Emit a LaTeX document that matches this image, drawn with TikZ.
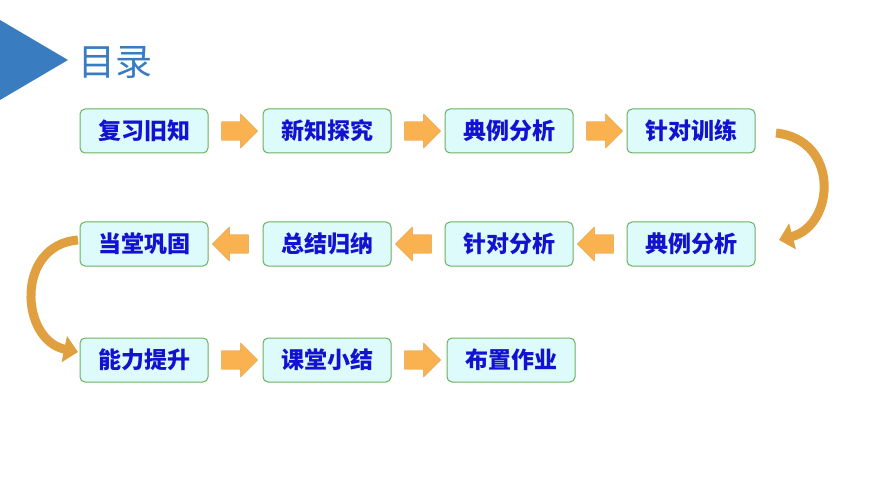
\documentclass[tikz,border=0pt]{standalone}
\usepackage{fontspec}
\newfontfamily\cjk{Noto Sans CJK SC}[BoldFont={Noto Sans CJK SC Black}]
\usetikzlibrary{arrows.meta,shapes.arrows}
\definecolor{tblue}{HTML}{3A7CC0}
\definecolor{bfill}{HTML}{DDFBFB}
\definecolor{bline}{HTML}{6BAF5E}
\definecolor{btext}{HTML}{1212D0}
\definecolor{aor}{HTML}{F9B24F}
\definecolor{aline}{HTML}{E09A3A}
\definecolor{cor}{HTML}{E0A040}
\begin{document}
\begin{tikzpicture}[x=1pt,y=-1pt,
 box/.style={draw=bline,line width=1pt,fill=bfill,rounded corners=5pt,minimum width=128pt,minimum height=44pt,inner sep=0pt,font=\cjk\bfseries\fontsize{23}{23}\selectfont,text=btext},
 barr/.style={single arrow,draw=aline,fill=aor,minimum height=36pt,minimum width=34pt,single arrow head extend=6pt,single arrow tip angle=90,inner sep=7pt},
 carr/.style={draw=cor,line width=9pt,-{Triangle[length=14pt,width=26pt]}}]
\useasboundingbox (0,0) rectangle (870,489);
\fill[tblue] (0,20) -- (68,60) -- (0,100) -- cycle;
\node[anchor=west,text=tblue,font=\cjk\fontsize{37}{37}\selectfont,inner sep=0pt] (title) at (78,62) {目录};
\node[box] (a1) at (144,131) {复习旧知};
\node[box] (a2) at (327,131) {新知探究};
\node[box] (a3) at (509,131) {典例分析};
\node[box] (a4) at (691,131) {针对训练};
\node[box] (b4) at (691,244) {典例分析};
\node[box] (b3) at (509,244) {针对分析};
\node[box] (b2) at (327,244) {总结归纳};
\node[box] (b1) at (144,244) {当堂巩固};
\node[box] (c1) at (144,360) {能力提升};
\node[box] (c2) at (327,360) {课堂小结};
\node[box] (c3) at (511,360) {布置作业};
\node[barr] (r1) at (235,131) {};
\node[barr] (r2) at (418,131) {};
\node[barr] (r3) at (600,131) {};
\node[barr,shape border rotate=180] (l1) at (235,244) {};
\node[barr,shape border rotate=180] (l2) at (418,244) {};
\node[barr,shape border rotate=180] (l3) at (600,244) {};
\node[barr] (s1) at (235,360) {};
\node[barr] (s2) at (418,360) {};
\coordinate (k1) at (776,133);
\coordinate (k2) at (779,240);
\draw[carr] (k1) .. controls (840,140) and (835,225) .. (k2);
\coordinate (m1) at (78,240);
\coordinate (m2) at (78,352);
\draw[carr] (m1) .. controls (15,245) and (20,340) .. (m2);
\end{tikzpicture}
\end{document}
